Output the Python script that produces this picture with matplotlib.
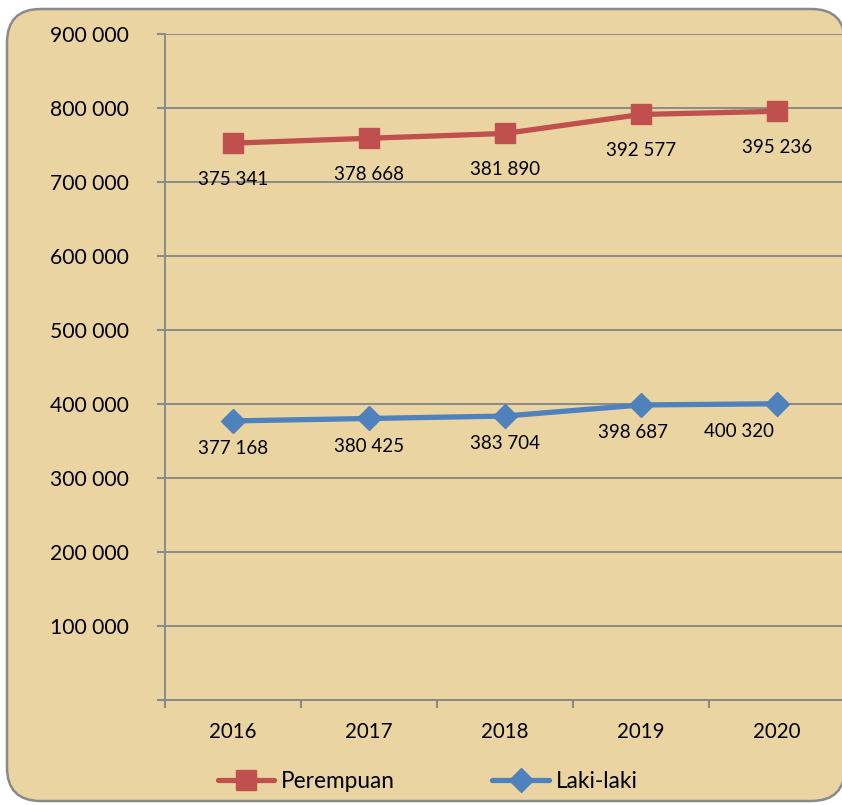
import matplotlib
matplotlib.use("Agg")
import matplotlib.pyplot as plt
from matplotlib.patches import FancyBboxPatch
from matplotlib.ticker import FuncFormatter, FixedLocator
import numpy as np

years = ["2016", "2017", "2018", "2019", "2020"]
laki = [377168, 380425, 383704, 398687, 400320]
perempuan = [375341, 378668, 381890, 392577, 395236]

plt.rcParams['font.family'] = ['Lato', 'DejaVu Sans']

W, H = 842, 805
fig = plt.figure(figsize=(W / 100, H / 100), dpi=100)
fig.patch.set_facecolor("white")

bg = "#EAD5A2"
frame = FancyBboxPatch((7 / W, 4 / H), (845 - 7) / W, (796 - 4) / H,
                       boxstyle="round,pad=0,rounding_size=0.04",
                       transform=fig.transFigure, facecolor=bg,
                       edgecolor="#8a8a8a", linewidth=1.8, zorder=-5,
                       mutation_aspect=W / H)
fig.patches.append(frame)

left, right, top, bottom = 165, 845, 34, 700
ax = fig.add_axes([left / W, 1 - bottom / H, (right - left) / W, (bottom - top) / H])
ax.set_facecolor("none")
ax.set_zorder(2)

x = np.arange(len(years))
stack_top = [l + p for l, p in zip(laki, perempuan)]

ax.plot(x, stack_top, color="#C0504D", lw=3.8, marker="s", ms=14,
        label="Perempuan", zorder=3, solid_capstyle="round")
ax.plot(x, laki, color="#4F81BD", lw=3.8, marker="D", ms=12,
        label="Laki-laki", zorder=3, solid_capstyle="round")

fmt = lambda v: f"{v:,.0f}".replace(",", " ")
for i in range(len(years)):
    ax.annotate(fmt(perempuan[i]), (x[i], stack_top[i]), xytext=(0, -26),
                textcoords="offset points", ha="center", va="center", fontsize=13.5)
    dx = -27 if i == len(years) - 1 else (-6 if i == 3 else 0)
    ax.annotate(fmt(laki[i]), (x[i], laki[i]), xytext=(dx, -20),
                textcoords="offset points", ha="center", va="center", fontsize=13.5)

ax.set_xlim(-0.5, len(years) - 0.5)
ax.set_ylim(0, 900000)
ax.yaxis.set_major_locator(FixedLocator(np.arange(0, 900001, 100000)))
ax.yaxis.set_major_formatter(FuncFormatter(lambda v, p: "" if v == 0 else fmt(v)))
ax.set_xticks(x)
ax.set_xticklabels(years)
ax.set_xticks(np.arange(-0.5, len(years), 1), minor=True)
ax.tick_params(axis="x", which="major", length=0, pad=16, labelsize=14.8)
ax.tick_params(axis="x", which="minor", length=6, width=1.5, color="#8a8a8a", direction="out")
ax.tick_params(axis="y", length=6, width=1.5, color="#8a8a8a", pad=20, labelsize=15.2)

ax.grid(axis="y", color="#8a8a8a", lw=1.4)
ax.set_axisbelow(True)
for s in ["top", "right"]:
    ax.spines[s].set_visible(False)
for s in ["left", "bottom"]:
    ax.spines[s].set_color("#8a8a8a")
    ax.spines[s].set_linewidth(1.4)

h, l = ax.get_legend_handles_labels()
fig.legend(h, l, loc="center", bbox_to_anchor=(0.508, 1 - 781 / H), ncol=2,
           frameon=False, fontsize=16.3, handlelength=2.5, columnspacing=4.3,
           handletextpad=0.3)

fig.savefig("out.png", dpi=100)
